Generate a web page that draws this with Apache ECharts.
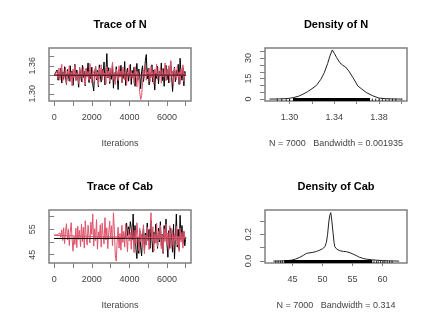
<!DOCTYPE html>
<html><head><meta charset="utf-8">
<script src="https://cdn.jsdelivr.net/npm/echarts@6/dist/echarts.min.js"></script>
<style>html,body{margin:0;padding:0;background:#fff}#c{width:432px;height:324px}</style>
</head><body><div id="c"></div>
<script>
// ---------------- data ----------------
const iterStep = 50; // iterations between stored trace samples (0..7000)

const traceN_chain1 = [
1.340,1.340,1.340,1.351,1.329,1.346,1.334,1.355,1.323,1.347,
1.331,1.358,1.336,1.320,1.352,1.341,1.327,1.360,1.333,1.349,
1.318,1.345,1.363,1.329,1.351,1.337,1.314,1.356,1.342,1.326,
1.361,1.335,1.348,1.317,1.354,1.340,1.366,1.324,1.346,1.332,
1.357,1.321,1.306,1.343,1.359,1.330,1.350,1.315,1.362,1.338,
1.325,1.353,1.341,1.368,1.319,1.347,1.386,1.334,1.356,1.322,
1.349,1.331,1.364,1.312,1.344,1.328,1.358,1.339,1.309,1.352,
1.336,1.361,1.324,1.347,1.333,1.369,1.318,1.345,1.355,1.327,
1.342,1.363,1.320,1.350,1.334,1.357,1.316,1.346,1.365,1.329,
1.353,1.338,1.311,1.348,1.360,1.326,1.343,1.371,1.384,1.332,
1.355,1.319,1.346,1.337,1.362,1.325,1.351,1.308,1.344,1.333,
1.359,1.321,1.348,1.339,1.366,1.328,1.354,1.316,1.345,1.361,
1.330,1.352,1.323,1.347,1.369,1.335,1.305,1.341,1.357,1.326,
1.350,1.338,1.363,1.320,1.376,1.344,1.329,1.356,1.317,1.348,
1.339];
const traceN_chain2 = [
1.340,1.341,1.340,1.348,1.333,1.355,1.329,1.350,1.363,1.327,
1.344,1.336,1.357,1.322,1.349,1.338,1.360,1.326,1.346,1.317,
1.353,1.334,1.361,1.328,1.345,1.340,1.322,1.356,1.337,1.351,
1.325,1.358,1.342,1.319,1.354,1.336,1.348,1.330,1.365,1.339,
1.323,1.350,1.344,1.327,1.359,1.333,1.347,1.318,1.356,1.341,
1.362,1.329,1.352,1.337,1.345,1.321,1.358,1.335,1.349,1.326,
1.355,1.340,1.368,1.331,1.346,1.320,1.353,1.343,1.328,1.360,
1.336,1.349,1.324,1.357,1.342,1.330,1.354,1.318,1.347,1.338,
1.361,1.327,1.350,1.335,1.345,1.322,1.358,1.341,1.315,1.348,
1.332,1.303,1.288,1.296,1.321,1.350,1.337,1.362,1.329,1.346,
1.341,1.355,1.326,1.359,1.334,1.348,1.320,1.353,1.343,1.364,
1.331,1.347,1.338,1.357,1.323,1.351,1.336,1.344,1.366,1.328,
1.352,1.340,1.360,1.325,1.371,1.337,1.349,1.318,1.355,1.342,
1.330,1.358,1.335,1.347,1.321,1.353,1.339,1.362,1.326,1.345,
1.340];
const traceCab_chain1 = [
51.4,51.4,51.4,51.4,51.4,51.4,51.4,51.4,51.4,51.4,
51.4,51.4,51.4,51.4,51.4,51.4,51.4,51.4,51.4,51.4,
51.4,51.4,51.4,51.4,51.4,51.4,51.4,51.4,51.4,51.4,
51.4,51.4,51.4,51.4,51.4,51.4,51.4,51.4,51.4,51.4,
51.4,51.4,51.4,51.4,51.4,51.4,51.4,51.4,51.4,51.4,
51.4,51.4,51.4,51.4,51.4,51.4,51.4,51.4,51.4,51.4,
51.4,51.4,51.4,51.4,51.4,51.9,51.4,51.4,51.4,51.4,
51.4,51.4,51.4,51.4,51.4,51.4,54.0,57.5,52.5,56.0,
53.0,58.0,55.5,51.0,61.0,49.5,56.5,47.0,43.5,52.0,
45.5,54.5,48.0,44.5,51.5,56.0,46.5,53.5,49.0,57.5,
50.5,55.0,47.5,58.5,51.0,46.0,54.0,49.5,57.0,52.5,
47.5,55.5,50.0,58.0,48.5,53.0,45.5,56.5,51.5,59.0,
49.0,44.0,54.5,47.5,55.5,50.5,46.0,57.0,43.3,52.0,
61.0,48.0,55.0,47.0,60.5,51.0,56.5,49.5,54.0,48.5,
52.0];
const traceCab_chain2 = [
52.8,52.8,52.8,52.8,52.8,52.8,53.6,51.9,54.8,50.6,
55.6,49.4,54.2,57.2,50.8,55.0,48.6,53.8,57.6,51.2,
46.4,52.2,49.0,55.4,47.8,56.2,51.0,54.6,48.2,57.0,
50.2,55.8,47.6,58.4,51.6,48.8,56.6,52.4,49.6,57.8,
53.0,61.0,48.4,55.2,50.6,58.8,47.2,54.0,51.4,56.8,
48.0,57.4,52.6,49.2,59.6,50.8,55.6,47.4,53.6,58.2,
51.2,56.4,48.6,61.5,54.8,44.6,42.5,50.2,55.8,47.6,
53.4,46.8,56.6,49.8,54.2,48.0,57.2,51.6,46.2,55.0,
50.4,53.8,47.2,56.2,51.8,45.8,54.6,49.4,57.6,52.2,
46.6,55.4,50.0,53.2,47.8,56.8,45.4,52.6,49.2,55.8,
51.4,47.0,54.4,61.5,50.8,56.0,46.4,53.0,49.6,57.4,
48.2,54.2,51.0,56.6,47.4,52.8,45.8,55.2,50.2,57.0,
49.0,53.6,46.8,56.4,51.6,48.4,54.8,47.0,53.2,50.6,
56.2,48.8,52.4,46.2,55.6,50.0,53.8,47.6,54.4,51.2,
51.0];

// lowess smooth lines
const smoothIters = [0, 2500, 5000, 7000];
const smoothN_chain1 = [1.3395, 1.3393, 1.3396, 1.3398];
const smoothN_chain2 = [1.3405, 1.3403, 1.3400, 1.3402];
const smoothCab_chain1 = [51.4, 51.4, 51.6, 51.8];
const smoothCab_chain2 = [52.6, 52.1, 51.8, 51.8];

// density curves
const densN_x = [1.282,1.290,1.296,1.300,1.304,1.308,1.312,1.316,1.320,1.324,1.328,1.331,1.334,1.336,1.3382,1.340,1.342,1.345,1.3475,1.350,1.353,1.3567,1.359,1.361,1.364,1.3686,1.3744,1.380,1.386,1.392,1.401];
const densN_y = [0,0.1,0.3,0.6,1.2,2.1,3.6,5.4,7.6,10.0,14.5,19.3,26,31.4,36,33.5,30.5,26.6,24.8,23.5,20.5,15.7,12.5,9.6,7.7,4.8,2.4,0.7,0.3,0.1,0];
const densCab_x = [41.8,43.0,44.0,44.8,45.5,46.2,46.8,47.3,47.9,48.4,49.0,49.55,50.0,50.4,50.65,50.85,51.05,51.2,51.38,51.55,51.77,51.92,52.05,52.4,52.9,53.5,54.0,54.6,55.1,55.7,56.2,56.8,57.3,58.2,59.0,60.0,61.0,62.8];
const densCab_y = [0,0.001,0.003,0.007,0.015,0.028,0.043,0.057,0.062,0.065,0.072,0.082,0.092,0.107,0.14,0.2,0.29,0.34,0.36,0.30,0.207,0.14,0.107,0.088,0.077,0.072,0.07,0.062,0.052,0.04,0.028,0.02,0.015,0.01,0.007,0.004,0.002,0];

// rug (observations): dense ranges and isolated ticks
const rugN_dense = [[1.303, 1.372]];
const rugN_sparse = [1.289,1.293,1.297,1.300,1.374,1.377,1.380,1.383,1.386,1.389,1.392,1.395];
const rugCab_dense = [[43.6, 58.3]];
const rugCab_sparse = [42.2,42.6,43.0,43.3,58.6,59.0,59.3,59.7,60.1,60.4,60.8,61.2,61.6];

// axis ticks / labels
const traceX_ticks = [0,1000,2000,3000,4000,5000,6000,7000];
const traceX_labels = [0,2000,4000,6000];
const traceN_yticks = [1.30,1.32,1.34,1.36,1.38];
const traceN_ylabels = [1.30,1.36];
const traceCab_yticks = [45,50,55,60];
const traceCab_ylabels = [45,55];
const densN_xticks = [1.30,1.32,1.34,1.36,1.38,1.40];
const densN_xlabels = [1.30,1.34,1.38];
const densN_yticks = [0,5,10,15,20,25,30,35];
const densN_ylabels = [0,15,30];
const densCab_xticks = [45,50,55,60];
const densCab_xlabels = [45,50,55,60];
const densCab_yticks = [0,0.1,0.2,0.3];
const densCab_ylabels = [0,0.2];

const titles = ['Trace of N','Density of N','Trace of Cab','Density of Cab'];
const xNames = ['Iterations','N = 7000   Bandwidth = 0.001935','Iterations','N = 7000   Bandwidth = 0.314'];

// ---------------- chart ----------------
const FONT = '"Liberation Sans", Arial, Helvetica, sans-serif';
const BOX = '#808080', TXT = '#444';
const RED = '#DF536B';

const gridPos = [
  {left:49, top:48}, {left:265, top:48}, {left:49, top:210}, {left:265, top:210}
];
const grids = gridPos.map(g => ({left:g.left, top:g.top, width:142, height:53, show:true,
  borderColor:BOX, borderWidth:1.5, backgroundColor:'transparent', containLabel:false}));

const ranges = [
  {x:[-280,7280], y:[1.2846,1.398]},
  {x:[1.278,1.405], y:[-1.4,37.4]},
  {x:[-280,7280], y:[41.75,62.6]},
  {x:[40.4,64.1], y:[-0.014,0.38]}
];

function xAx(i, ticks, labels, fmt) {
  return {type:'value', gridIndex:i, min:ranges[i].x[0], max:ranges[i].x[1],
    axisLine:{show:false}, splitLine:{show:false},
    axisTick:{show:true, customValues:ticks, length:5, lineStyle:{color:BOX, width:1}},
    axisLabel:{customValues:labels, formatter:fmt, fontSize:9, color:TXT, margin:12, fontFamily:FONT}};
}
function yAx(i, ticks, labels, fmt) {
  return {type:'value', gridIndex:i, min:ranges[i].y[0], max:ranges[i].y[1],
    axisLine:{show:false}, splitLine:{show:false},
    axisTick:{show:true, customValues:ticks, length:5, lineStyle:{color:BOX, width:1}},
    axisLabel:{customValues:labels, formatter:fmt, rotate:90, fontSize:9, color:TXT, margin:12, fontFamily:FONT}};
}
const f0 = v => String(Math.round(v));
const f1 = v => v.toFixed(1);
const f2 = v => v.toFixed(2);

const xAxes = [
  xAx(0, traceX_ticks, traceX_labels, f0),
  xAx(1, densN_xticks, densN_xlabels, f2),
  xAx(2, traceX_ticks, traceX_labels, f0),
  xAx(3, densCab_xticks, densCab_xlabels, f0)
];
const yAxes = [
  yAx(0, traceN_yticks, traceN_ylabels, f2),
  yAx(1, densN_yticks, densN_ylabels, f0),
  yAx(2, traceCab_yticks, traceCab_ylabels, f0),
  yAx(3, densCab_yticks, densCab_ylabels, f1)
];

function lineS(i, data, color, width, z) {
  return {type:'line', xAxisIndex:i, yAxisIndex:i, data, showSymbol:false, symbol:'none',
    lineStyle:{color, width}, itemStyle:{color}, z, animation:false, silent:true, clip:true};
}
const traceData = arr => arr.map((v, k) => [k * iterStep, v]);
const zipXY = (xs, ys) => xs.map((x, k) => [x, ys[k]]);

function rugSeries(i, dense, sparse) {
  const yMin = ranges[i].y[0];
  return [
    {type:'custom', xAxisIndex:i, yAxisIndex:i, clip:false, silent:true, animation:false, z:5,
      data:dense, encode:{x:[0,1]},
      renderItem:(p, api) => {
        const a = api.coord([api.value(0), yMin]);
        const b = api.coord([api.value(1), yMin]);
        return {type:'rect', shape:{x:a[0], y:a[1]-3, width:b[0]-a[0], height:3}, style:{fill:'#000'}};
      }},
    {type:'custom', xAxisIndex:i, yAxisIndex:i, clip:false, silent:true, animation:false, z:5,
      data:sparse.map(v => [v]), encode:{x:0},
      renderItem:(p, api) => {
        const a = api.coord([api.value(0), yMin]);
        return {type:'line', shape:{x1:a[0], y1:a[1], x2:a[0], y2:a[1]-2.5}, style:{stroke:'#000', lineWidth:0.8}};
      }}
  ];
}

const series = [
  lineS(0, traceData(traceN_chain1), '#000', 1, 2),
  lineS(0, traceData(traceN_chain2), RED, 1, 3),
  lineS(0, zipXY(smoothIters, smoothN_chain1), '#000', 1, 4),
  lineS(0, zipXY(smoothIters, smoothN_chain2), '#9b3546', 1.2, 4),
  lineS(1, zipXY(densN_x, densN_y), '#222', 1, 3),
  ...rugSeries(1, rugN_dense, rugN_sparse),
  lineS(2, traceData(traceCab_chain1), '#000', 1, 2),
  lineS(2, traceData(traceCab_chain2), RED, 1, 3),
  lineS(2, zipXY(smoothIters, smoothCab_chain1), '#000', 1, 4),
  lineS(2, zipXY(smoothIters, smoothCab_chain2), RED, 1, 4),
  lineS(3, zipXY(densCab_x, densCab_y), '#222', 1, 3),
  ...rugSeries(3, rugCab_dense, rugCab_sparse)
];

const centers = [120, 336, 120, 336];
const titleY = [25, 25, 187, 187];
const nameY = [143.5, 144, 305.5, 306];
const graphic = [];
titles.forEach((t, k) => graphic.push({type:'text', x:centers[k], y:titleY[k], silent:true,
  style:{text:t, textAlign:'center', textVerticalAlign:'middle', font:'bold 11px ' + FONT, fill:'#000'}}));
xNames.forEach((t, k) => graphic.push({type:'text', x:centers[k], y:nameY[k], silent:true,
  style:{text:t, textAlign:'center', textVerticalAlign:'middle', font:'9px ' + FONT, fill:TXT}}));

const chart = echarts.init(document.getElementById('c'), null, {renderer:'canvas'});
chart.setOption({backgroundColor:'#fff', animation:false, grid:grids, xAxis:xAxes, yAxis:yAxes, series, graphic});
</script></body></html>
